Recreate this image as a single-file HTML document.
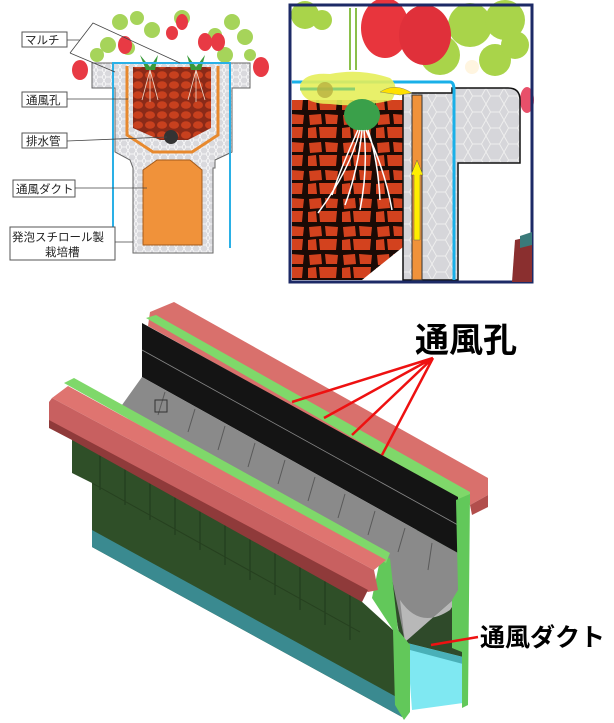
<!DOCTYPE html>
<html><head><meta charset="utf-8"><style>
html,body{margin:0;padding:0;background:#fff}
svg{display:block}
text{font-family:"Liberation Sans","Noto Sans CJK JP",sans-serif}
</style></head><body>
<svg width="614" height="723" viewBox="0 0 614 723" xmlns="http://www.w3.org/2000/svg">
<defs>
<pattern id="hex" width="8" height="7" patternUnits="userSpaceOnUse">
<rect width="8" height="7" fill="#d9d9dd"/><path d="M0 3.5 L2 0 L6 0 L8 3.5 L6 7 L2 7 Z" fill="none" stroke="#fff" stroke-width="0.7"/>
</pattern>
<pattern id="hex2" width="18" height="16" patternUnits="userSpaceOnUse">
<rect width="18" height="16" fill="#d6d6da"/><path d="M0 8 L4.5 0 L13.5 0 L18 8 L13.5 16 L4.5 16 Z" fill="none" stroke="#eee" stroke-width="1"/>
</pattern>
<pattern id="soil" width="12" height="10" patternUnits="userSpaceOnUse">
<rect width="12" height="10" fill="#8a2a18"/><ellipse cx="6" cy="5" rx="5" ry="3.8" fill="#c8401e"/>
</pattern>
<pattern id="soil2" width="34" height="28" patternUnits="userSpaceOnUse">
<rect width="34" height="28" fill="#1a0a05"/><path d="M3 3 L15 2 L16 12 L4 13 Z" fill="#d3421e"/><path d="M19 2 L32 3 L31 12 L20 12 Z" fill="#d3421e"/><path d="M2 16 L10 15 L11 26 L2 26 Z" fill="#d3421e"/><path d="M13 15 L31 15 L30 26 L14 26 Z" fill="#d3421e"/>
</pattern>
</defs>

<!-- ===== Top-left cross-section ===== -->
<g fill="#a6d45a">
<circle cx="120" cy="22" r="8"/><circle cx="137" cy="18" r="7"/><circle cx="152" cy="30" r="8"/><circle cx="108" cy="45" r="8"/><circle cx="97" cy="55" r="7"/><circle cx="128" cy="48" r="7"/>
<circle cx="182" cy="18" r="8"/><circle cx="232" cy="22" r="8"/><circle cx="245" cy="37" r="8"/><circle cx="215" cy="35" r="7"/><circle cx="225" cy="55" r="8"/><circle cx="250" cy="55" r="6"/>
</g>
<g fill="#e83a44">
<ellipse cx="80" cy="70" rx="8" ry="10"/><ellipse cx="125" cy="45" rx="7" ry="9"/><ellipse cx="172" cy="33" rx="6" ry="7"/><ellipse cx="182" cy="22" rx="6" ry="8"/><ellipse cx="205" cy="42" rx="7" ry="9"/><ellipse cx="218" cy="42" rx="7" ry="9"/><ellipse cx="261" cy="67" rx="8" ry="10"/>
</g>
<path d="M92 63 H250 V88 H232 V152 L215 160 V168 H213 V253 H133 V168 L130 160 L115 152 V88 H92 Z" fill="url(#hex)" stroke="#666" stroke-width="1"/>
<path d="M143 170 L157 160 H190 L202 170 V245 H143 Z" fill="#f0923a" stroke="#a35a1a" stroke-width="1"/>
<path d="M127 66 V135 L153 152 H192 L218 135 V66" fill="none" stroke="#e7892e" stroke-width="3"/>
<path d="M133 67 H211 V128 L188 140 H160 L133 128 Z" fill="url(#soil)"/>
<circle cx="171" cy="137" r="7" fill="#333"/>
<path d="M140 55 L150 67 L158 55 L155 70 H146 Z" fill="#3a9a3a"/>
<path d="M187 55 L196 67 L205 55 L201 70 H191 Z" fill="#3a9a3a"/>
<g stroke="#f0d8c8" stroke-width="0.8" fill="none"><path d="M150 70 L142 100 M150 70 L150 102 M150 70 L158 100 M196 70 L188 100 M196 70 L196 102 M196 70 L205 100"/></g>
<path d="M113 250 V63 H230 V248" fill="none" stroke="#2ab0e6" stroke-width="2"/>
<g fill="#fff" stroke="#555" stroke-width="1">
<rect x="22" y="32" width="45" height="15"/><rect x="22" y="92" width="45" height="15"/><rect x="22" y="133" width="45" height="15"/><rect x="13" y="180" width="62" height="17"/><rect x="10" y="227" width="105" height="33"/>
</g>
<g stroke="#444" stroke-width="0.8" fill="none">
<path d="M67 40 H80 M70 53 L93 23 L180 63 M70 53 L115 72"/>
<path d="M67 99 H128"/><path d="M67 141 L167 137"/><path d="M75 188 H147"/><path d="M115 242 H133"/>
</g>
<g font-size="11.5" fill="#222">
<text x="25" y="44">マルチ</text><text x="26" y="104">通風孔</text><text x="26" y="145">排水管</text><text x="16" y="193">通風ダクト</text>
<text x="12" y="241">発泡スチロール製</text><text x="45" y="256">栽培槽</text>
</g>

<!-- ===== Top-right detail ===== -->
<g>
<rect x="290" y="5" width="242" height="277" fill="#fff"/>
<g fill="#a9d44a"><circle cx="305" cy="15" r="14"/><circle cx="322" cy="20" r="10"/><circle cx="470" cy="25" r="22"/><circle cx="505" cy="20" r="20"/><circle cx="440" cy="55" r="20"/><circle cx="495" cy="60" r="16"/><circle cx="515" cy="45" r="14"/></g>
<path d="M350 8 V70 M356 8 V70" stroke="#8ac04a" stroke-width="2"/>
<ellipse cx="385" cy="28" rx="24" ry="30" fill="#e8353d"/><ellipse cx="425" cy="35" rx="26" ry="30" fill="#e0303a"/>
<circle cx="472" cy="67" r="7" fill="#fff5e0"/>
<ellipse cx="527" cy="100" rx="7" ry="13" fill="#e8506a"/>
<path d="M292 100 H403 V247 L362 280 H292 Z" fill="url(#soil2)"/>
<path d="M403 93 H452 V88 H508 Q520 88 520 100 V163 H458 V280 H403 Z" fill="url(#hex2)" stroke="#111" stroke-width="1.5"/>
<rect x="412" y="95" width="10" height="185" fill="#f0923a" stroke="#333" stroke-width="1"/>
<path d="M414 240 V175 H411 L417 160 L423 175 H420 V240 Z" fill="#ffee00" stroke="#665" stroke-width="0.5"/>
<path d="M292 82 H450 Q454 82 454 90 V280" fill="none" stroke="#1ab0e8" stroke-width="3"/>
<path d="M300 85 Q305 72 330 74 Q360 68 390 78 Q400 86 392 100 Q360 108 330 104 Q300 104 300 85 Z" fill="#e6ee5a" opacity="0.9"/>
<path d="M300 89 H355" stroke="#8cd070" stroke-width="3"/>
<circle cx="325" cy="90" r="8" fill="#b8b040" opacity="0.8"/>
<path d="M380 92 Q395 82 412 93 L400 95 Z" fill="#ffe000" stroke="#886" stroke-width="0.5"/>
<ellipse cx="362" cy="115" rx="18" ry="16" fill="#3aa04a"/>
<g stroke="#fff" stroke-width="1.5" fill="none"><path d="M360 130 Q350 170 318 213 M362 130 Q358 170 345 205 M364 130 Q368 170 360 210 M366 130 Q385 170 392 210 M358 130 Q340 170 332 195 M368 130 Q378 160 380 200"/></g>
<rect x="290" y="5" width="242" height="277" fill="none" stroke="#1c2a66" stroke-width="3"/>
<path d="M515 240 L532 236 V282 H512 Z" fill="#8a2f2f"/><path d="M520 236 L532 232 V245 L520 248 Z" fill="#3a7a7a"/>
</g>

<!-- ===== Bottom 3D ===== -->
<!-- end-section interior dark fill -->
<path d="M385 555 L468 490 L468 662 L402 650 Z" fill="#2f4a2a"/>
<!-- back rail -->
<path d="M150 312 L174 302 L488 478 L488 495 L470 505 L148 326 Z" fill="#d9706c"/>
<path d="M470 505 L488 495 L488 507 L472 515 Z" fill="#b24e4c"/>
<path d="M146 318 L156 315 L470 492 L470 503 L460 500 Z" fill="#7fd86a"/>
<!-- black panel -->
<path d="M142 323 L458 497 L458 553 L142 377 Z" fill="#141414"/>
<path d="M142 350 L458 525" stroke="#888" stroke-width="0.8"/>
<!-- gray trough -->
<path d="M142 377 L458 553 L462 592 L405 642 L388 560 L122 405 Z" fill="#8a8a8a"/>
<path d="M400 600 Q420 630 450 610 L462 592 L405 642 Z" fill="#b8b8b8"/>
<g stroke="#5a5a5a" stroke-width="1"><path d="M165 392 L158 415 M195 409 L188 432 M225 426 L218 450 M255 443 L248 467 M285 460 L278 484 M315 477 L308 501 M345 494 L338 518 M375 511 L368 535 M405 528 L398 552 M432 543 L428 570"/></g>
<rect x="155" y="400" width="12" height="12" fill="none" stroke="#333"/>
<!-- cyan duct end -->
<path d="M407 643 L463 657 V703 L412 710 Z" fill="#7fe8f2"/>
<path d="M407 643 L463 657 L463 664 L410 650 Z" fill="#4ab0b8"/>
<!-- green body front face -->
<path d="M72 437 L360 600 L393 630 L402 650 L402 717 L92 547 L92 483 L72 473 Z" fill="#2f4f28"/>
<path d="M92 530 L402 700 L402 717 L92 547 Z" fill="#3a8a90"/>
<g stroke="#1f3a1c" stroke-width="1"><path d="M100 452 V490 M125 466 V505 M150 480 V520 M175 494 V535 M200 508 V550 M225 522 V565 M250 536 V580 M275 550 V595 M300 564 V610 M325 578 V625 M350 592 V640"/></g>
<path d="M92 483 L360 632" stroke="#26401f" stroke-width="1"/>
<!-- end cross-section green outline -->
<path d="M380 560 L390 558 L398 630 L410 645 L410 712 L404 720 L395 705 L393 630 L372 598 Z" fill="#62c85a"/>
<path d="M456 500 L470 494 L468 705 L462 708 L462 652 L452 648 L452 600 L458 590 Z" fill="#62c85a"/>
<!-- front green strip -->
<path d="M64 383 L74 378 L390 553 L386 563 Z" fill="#7fd86a"/>
<!-- front red rail -->
<path d="M52 398 L68 386 L386 560 L374 570 Z" fill="#df7470"/>
<path d="M49 402 L52 398 L374 570 L378 590 L368 592 L49 422 Z" fill="#c86060"/>
<path d="M49 420 L368 590 L362 602 L72 440 L49 428 Z" fill="#8f3a3a"/>
<!-- red pointer lines -->
<g stroke="#ee1111" stroke-width="2.5" fill="none"><path d="M433 358 L292 402 M433 358 L324 418 M433 358 L352 435 M433 358 L382 455 M478 637 L431 645"/></g>
<text x="415" y="352" font-size="34" font-weight="bold" fill="#000">通風孔</text>
<text x="480" y="646" font-size="25" font-weight="bold" fill="#000">通風ダクト</text>
</svg>
</body></html>
